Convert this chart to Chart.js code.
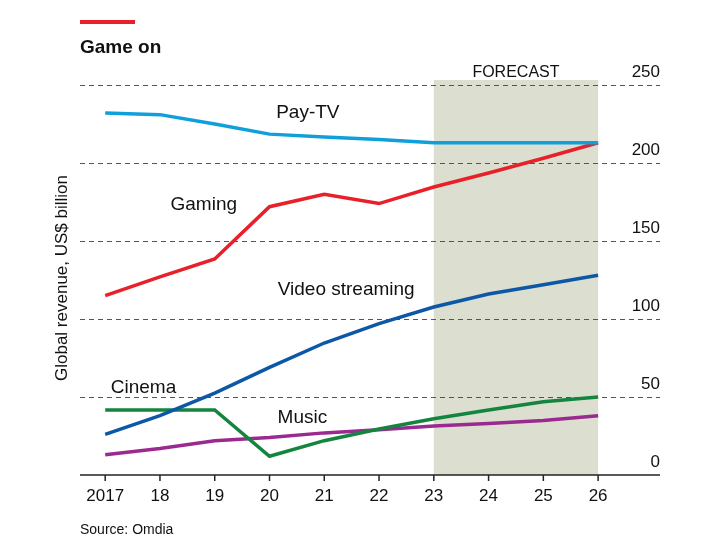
<!DOCTYPE html>
<html>
<head>
<meta charset="utf-8">
<script src="https://cdn.jsdelivr.net/npm/chart.js@4"></script>
<style>
  body { margin: 0; background: #fff; }
  #wrap { position: relative; width: 717px; height: 550px; }
</style>
</head>
<body>
<div id="wrap"><canvas id="c" width="717" height="550"></canvas></div>
<script>
// dados
const years = [2017, 2018, 2019, 2020, 2021, 2022, 2023, 2024, 2025, 2026];
const yearLabels = ['2017', '18', '19', '20', '21', '22', '23', '24', '25', '26'];
const payTV = [232, 231, 225, 218.5, 216.7, 215, 213, 213, 213, 213];
const gaming = [115, 127, 138.5, 172, 180, 174, 184.6, 193.6, 203, 213];
const videoStreaming = [26, 38, 52.5, 69, 84.6, 97, 107.7, 116, 122, 128];
const cinema = [41.7, 41.7, 41.7, 12, 22, 29.5, 36, 41.7, 47, 50];
const music = [13, 17, 22, 24, 27, 29, 31.4, 33, 35, 38];
const yTicks = [0, 50, 100, 150, 200, 250];
const forecastFrom = 2023, forecastTo = 2026;

// rótulos das séries: [texto, ano, valor]
const seriesLabels = [
  ['Pay-TV', 2020.7, 232],
  ['Gaming', 2018.8, 173],
  ['Video streaming', 2021.4, 119],
  ['Cinema', 2017.7, 56],
  ['Music', 2020.6, 37]
];

const FONT = '"Liberation Sans", Arial, sans-serif';

const mk = (label, data, color) => ({
  label, data: data.map((v, i) => ({ x: years[i], y: v })),
  borderColor: color, borderWidth: 3.5, pointRadius: 0, tension: 0, fill: false
});

const decor = {
  id: 'decor',
  beforeDatasetsDraw(chart) {
    const { ctx, scales: { x, y }, chartArea: a } = chart;
    ctx.save();
    // faixa de previsão
    ctx.fillStyle = '#dcdfcf';
    ctx.fillRect(x.getPixelForValue(forecastFrom), a.top, x.getPixelForValue(forecastTo) - x.getPixelForValue(forecastFrom), a.bottom - a.top);
    // linhas de grade tracejadas
    ctx.strokeStyle = '#555';
    ctx.lineWidth = 1;
    ctx.setLineDash([5, 4]);
    yTicks.forEach(t => {
      if (t === 0) return;
      const py = Math.round(y.getPixelForValue(t)) + 0.5;
      ctx.beginPath(); ctx.moveTo(a.left, py); ctx.lineTo(a.right, py); ctx.stroke();
    });
    ctx.setLineDash([]);
    // eixo x
    ctx.strokeStyle = '#222';
    ctx.lineWidth = 1.5;
    const by = y.getPixelForValue(0);
    ctx.beginPath(); ctx.moveTo(a.left, by); ctx.lineTo(a.right, by); ctx.stroke();
    years.forEach(yr => {
      const px = x.getPixelForValue(yr);
      ctx.beginPath(); ctx.moveTo(px, by); ctx.lineTo(px, by + 6); ctx.stroke();
    });
    ctx.restore();
  },
  afterDatasetsDraw(chart) {
    const { ctx, scales: { x, y }, chartArea: a } = chart;
    ctx.save();
    ctx.fillStyle = '#111';
    // rótulos do eixo y à direita
    ctx.font = '17px ' + FONT;
    ctx.textAlign = 'right';
    ctx.textBaseline = 'bottom';
    yTicks.forEach(t => ctx.fillText(String(t), a.right, y.getPixelForValue(t) - 4));
    // rótulos do eixo x
    ctx.textAlign = 'center';
    ctx.textBaseline = 'top';
    years.forEach((yr, i) => ctx.fillText(yearLabels[i], x.getPixelForValue(yr), y.getPixelForValue(0) + 13));
    // FORECAST
    ctx.font = '16px ' + FONT;
    ctx.textBaseline = 'middle';
    ctx.fillText('FORECAST', (x.getPixelForValue(forecastFrom) + x.getPixelForValue(forecastTo)) / 2, a.top - 7);
    // rótulos das séries
    ctx.font = '19px ' + FONT;
    ctx.textBaseline = 'middle';
    seriesLabels.forEach(([t, xv, yv]) => ctx.fillText(t, x.getPixelForValue(xv), y.getPixelForValue(yv)));
    // título e fonte
    ctx.fillStyle = '#e8202a';
    ctx.fillRect(80, 20, 55, 4);
    ctx.fillStyle = '#111';
    ctx.textAlign = 'left';
    ctx.font = 'bold 19px ' + FONT;
    ctx.fillText('Game on', 80, 48);
    ctx.font = '14px ' + FONT;
    ctx.fillText('Source: Omdia', 80, 530);
    // título do eixo y
    ctx.font = '17px ' + FONT;
    ctx.translate(62, 278);
    ctx.rotate(-Math.PI / 2);
    ctx.textAlign = 'center';
    ctx.fillText('Global revenue, US$ billion', 0, 0);
    ctx.restore();
  }
};

new Chart(document.getElementById('c'), {
  type: 'line',
  data: {
    datasets: [
      mk('Pay-TV', payTV, '#0f9fdb'),
      mk('Gaming', gaming, '#e8202a'),
      mk('Video streaming', videoStreaming, '#0c58a6'),
      mk('Cinema', cinema, '#13853e'),
      mk('Music', music, '#9b2a90')
    ]
  },
  options: {
    responsive: false,
    animation: false,
    layout: { padding: { left: 80, right: 57, top: 80, bottom: 75 } },
    plugins: { legend: { display: false }, tooltip: { enabled: false } },
    scales: {
      x: { type: 'linear', min: 2016.54, max: 2027.13, display: false },
      y: { min: 0, max: 253.2, display: false }
    }
  },
  plugins: [decor]
});
</script>
</body>
</html>
